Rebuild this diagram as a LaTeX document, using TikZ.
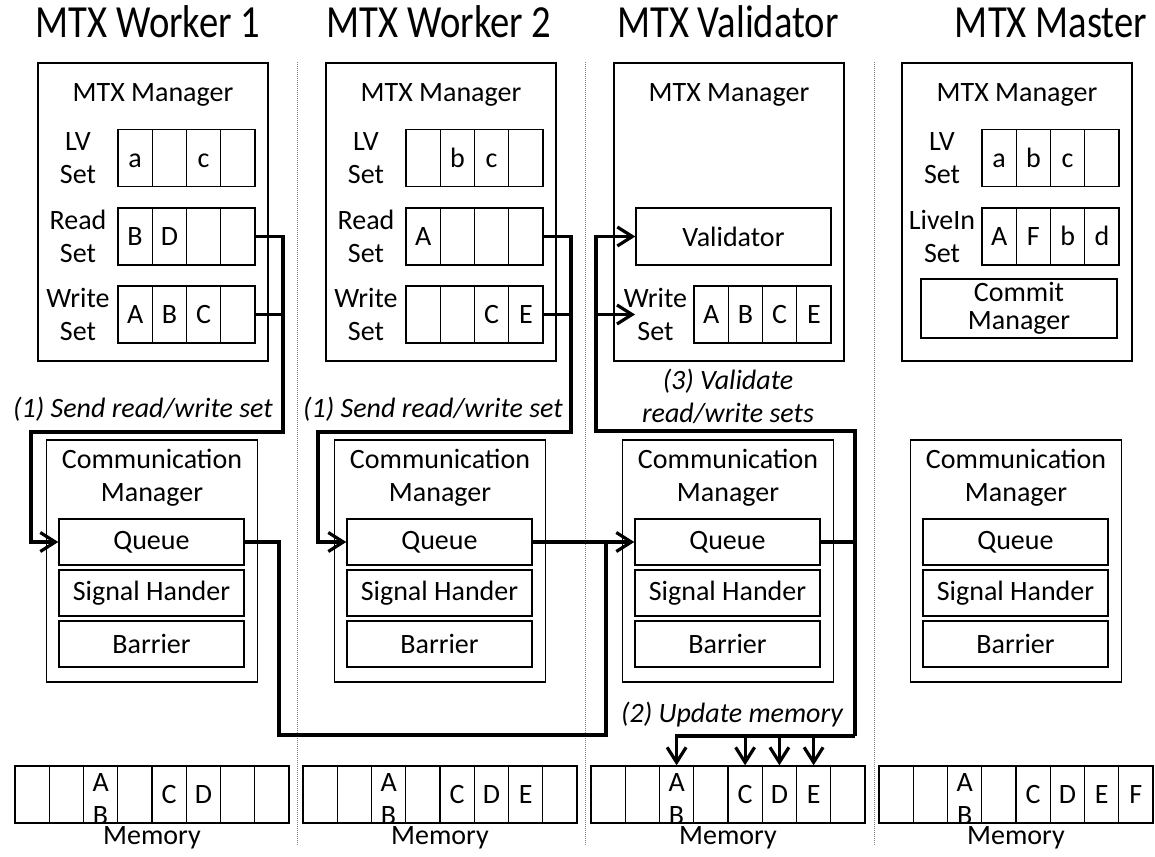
\documentclass[tikz,border=0pt]{standalone}
\usepackage{fontspec}
\setmainfont{Carlito}
\newfontfamily\ttlfont{Carlito}[FakeStretch=0.84]
\usetikzlibrary{arrows.meta}
\newcommand{\txtsize}{\fontsize{28}{33}\selectfont}
\newcommand{\ttlsize}{\ttlfont\fontsize{46}{50}\selectfont}

\begin{document}
\begin{tikzpicture}[x=1pt, y=-1pt, font=\txtsize,
  box/.style={draw, line width=1.4pt, inner sep=0pt, align=center},
  cell/.style={box, minimum width=34.25pt, minimum height=57pt, text height=18pt, text depth=0pt},
  sub/.style={box, minimum width=185pt, minimum height=46pt},
  lbl/.style={align=center, inner sep=0pt},
  pair/.style={lbl, yshift=-4.5pt},
  title/.style={font=\ttlsize, anchor=base, inner sep=0pt},
  step lbl/.style={font=\txtsize\itshape, align=center, inner sep=0pt},
  link/.style={line width=3.2pt},
  arr/.style={link, -{Straight Barb[length=15pt, width=19pt]}},
  sep/.style={gray, line width=1pt, dash pattern=on 1pt off 1pt}]
\useasboundingbox (0,0) rectangle (1155,856);

% Column separators
\draw[sep] (297,62) -- (297,845);
\draw[sep] (585,62) -- (585,845);
\draw[sep] (874,62) -- (874,845);

% Titles
\node[title] (t1) at (148,38) {MTX Worker 1};
\node[title] (t2) at (439,38) {MTX Worker 2};
\node[title] (t3) at (728,38) {MTX Validator};
\node[title] (t4) at (1051,38) {MTX Master};

% Worker 1
\node[box, minimum width=230pt, minimum height=298pt] (w1mtx) at (153,212) {};
\node (w1mtxt) at (153,95) {MTX Manager};
\node[lbl] (w1lvl) at (78,158) {LV\\Set};
\node[cell] (w1lv1) at (135.1,158) {a};
\node[cell] (w1lv2) at (169.4,158) {};
\node[cell] (w1lv3) at (203.6,158) {c};
\node[cell] (w1lv4) at (237.9,158) {};
\node[lbl] (w1rdl) at (78,236.5) {Read\\Set};
\node[cell] (w1rd1) at (135.1,236.5) {B};
\node[cell] (w1rd2) at (169.4,236.5) {D};
\node[cell] (w1rd3) at (203.6,236.5) {};
\node[cell] (w1rd4) at (237.9,236.5) {};
\node[lbl] (w1wrl) at (78,314.5) {Write\\Set};
\node[cell] (w1wr1) at (135.1,314.5) {A};
\node[cell] (w1wr2) at (169.4,314.5) {B};
\node[cell] (w1wr3) at (203.6,314.5) {C};
\node[cell] (w1wr4) at (237.9,314.5) {};
\node[box, minimum width=211pt, minimum height=242pt] (w1com) at (152,561) {};
\node[lbl] (w1comt) at (152,477.5) {Communication\\Manager};
\node[sub] (w1q) at (151.5,542) {Queue};
\node[sub] (w1sig) at (151.5,593) {Signal Hander};
\node[sub] (w1bar) at (151.5,644) {Barrier};

% Worker 2
\node[box, minimum width=230pt, minimum height=298pt] (w2mtx) at (441,212) {};
\node (w2mtxt) at (441,95) {MTX Manager};
\node[lbl] (w2lvl) at (366,158) {LV\\Set};
\node[cell] (w2lv1) at (423.1,158) {};
\node[cell] (w2lv2) at (457.4,158) {b};
\node[cell] (w2lv3) at (491.6,158) {c};
\node[cell] (w2lv4) at (525.9,158) {};
\node[lbl] (w2rdl) at (366,236.5) {Read\\Set};
\node[cell] (w2rd1) at (423.1,236.5) {A};
\node[cell] (w2rd2) at (457.4,236.5) {};
\node[cell] (w2rd3) at (491.6,236.5) {};
\node[cell] (w2rd4) at (525.9,236.5) {};
\node[lbl] (w2wrl) at (366,314.5) {Write\\Set};
\node[cell] (w2wr1) at (423.1,314.5) {};
\node[cell] (w2wr2) at (457.4,314.5) {};
\node[cell] (w2wr3) at (491.6,314.5) {C};
\node[cell] (w2wr4) at (525.9,314.5) {E};
\node[box, minimum width=211pt, minimum height=242pt] (w2com) at (440,561) {};
\node[lbl] (w2comt) at (440,477.5) {Communication\\Manager};
\node[sub] (w2q) at (439.5,542) {Queue};
\node[sub] (w2sig) at (439.5,593) {Signal Hander};
\node[sub] (w2bar) at (439.5,644) {Barrier};

% Validator
\node[box, minimum width=230pt, minimum height=298pt] (vmtx) at (729,212) {};
\node (vmtxt) at (729,95) {MTX Manager};
\node[box, minimum width=195pt, minimum height=57pt] (vval) at (733.5,236.5) {Validator};
\node[lbl] (vwrl) at (655.5,314.5) {Write\\Set};
\node[cell] (vwr1) at (711.1,314.5) {A};
\node[cell] (vwr2) at (745.4,314.5) {B};
\node[cell] (vwr3) at (779.6,314.5) {C};
\node[cell] (vwr4) at (813.9,314.5) {E};
\node[box, minimum width=211pt, minimum height=242pt] (vcom) at (728,561) {};
\node[lbl] (vcomt) at (728,477.5) {Communication\\Manager};
\node[sub] (vq) at (727.5,542) {Queue};
\node[sub] (vsig) at (727.5,593) {Signal Hander};
\node[sub] (vbar) at (727.5,644) {Barrier};

% Master
\node[box, minimum width=230pt, minimum height=298pt] (mmtx) at (1017,212) {};
\node (mmtxt) at (1017,95) {MTX Manager};
\node[lbl] (mlvl) at (942,158) {LV\\Set};
\node[cell] (mlv1) at (999.1,158) {a};
\node[cell] (mlv2) at (1033.4,158) {b};
\node[cell] (mlv3) at (1067.6,158) {c};
\node[cell] (mlv4) at (1101.9,158) {};
\node[lbl] (mlil) at (942,236.5) {LiveIn\\Set};
\node[cell] (mli1) at (999.1,236.5) {A};
\node[cell] (mli2) at (1033.4,236.5) {F};
\node[cell] (mli3) at (1067.6,236.5) {b};
\node[cell] (mli4) at (1101.9,236.5) {d};
\node[box, minimum width=196pt, minimum height=59pt, font=\fontsize{28}{28}\selectfont] (mcm) at (1019,308.5) {Commit\\Manager};
\node[box, minimum width=211pt, minimum height=242pt] (mcom) at (1016,561) {};
\node[lbl] (mcomt) at (1016,477.5) {Communication\\Manager};
\node[sub] (mq) at (1015.5,542) {Queue};
\node[sub] (msig) at (1015.5,593) {Signal Hander};
\node[sub] (mbar) at (1015.5,644) {Barrier};

% Memory rows
\node[cell] (w1m1) at (32.1,794.5) {};
\node[cell] (w1m2) at (66.4,794.5) {};
\node[cell] (w1m3) at (100.6,794.5) {};
\node[pair] (w1ab) at (w1m3.center) {A\\B};
\node[cell] (w1m4) at (134.9,794.5) {};
\node[cell] (w1m5) at (169.1,794.5) {C};
\node[cell] (w1m6) at (203.4,794.5) {D};
\node[cell] (w1m7) at (237.6,794.5) {};
\node[cell] (w1m8) at (271.9,794.5) {};
\node (w1mem) at (152,838) {Memory};
\node[cell] (w2m1) at (320.1,794.5) {};
\node[cell] (w2m2) at (354.4,794.5) {};
\node[cell] (w2m3) at (388.6,794.5) {};
\node[pair] (w2ab) at (w2m3.center) {A\\B};
\node[cell] (w2m4) at (422.9,794.5) {};
\node[cell] (w2m5) at (457.1,794.5) {C};
\node[cell] (w2m6) at (491.4,794.5) {D};
\node[cell] (w2m7) at (525.6,794.5) {E};
\node[cell] (w2m8) at (559.9,794.5) {};
\node (w2mem) at (440,838) {Memory};
\node[cell] (vm1) at (608.1,794.5) {};
\node[cell] (vm2) at (642.4,794.5) {};
\node[cell] (vm3) at (676.6,794.5) {};
\node[pair] (vab) at (vm3.center) {A\\B};
\node[cell] (vm4) at (710.9,794.5) {};
\node[cell] (vm5) at (745.1,794.5) {C};
\node[cell] (vm6) at (779.4,794.5) {D};
\node[cell] (vm7) at (813.6,794.5) {E};
\node[cell] (vm8) at (847.9,794.5) {};
\node (vmem) at (728,838) {Memory};
\node[cell] (mm1) at (896.1,794.5) {};
\node[cell] (mm2) at (930.4,794.5) {};
\node[cell] (mm3) at (964.6,794.5) {};
\node[pair] (mab) at (mm3.center) {A\\B};
\node[cell] (mm4) at (998.9,794.5) {};
\node[cell] (mm5) at (1033.1,794.5) {C};
\node[cell] (mm6) at (1067.4,794.5) {D};
\node[cell] (mm7) at (1101.6,794.5) {E};
\node[cell] (mm8) at (1135.9,794.5) {F};
\node (mmem) at (1016,838) {Memory};

% Step labels
\node[step lbl] (l1) at (143,409) {(1) Send read/write set};
\node[step lbl] (l2) at (433,409) {(1) Send read/write set};
\node[step lbl] (l3) at (728,396.5) {(3) Validate\\read/write sets};
\node[step lbl] (l4) at (732,715) {(2) Update memory};

% (1) read/write sets go to the queues
\coordinate (s1) at (283,432);
\draw[link] (w1wr4.east) -- (w1wr4.east -| s1);
\draw[arr] (w1rd4.east) -| (s1) -- (31,432) |- (w1q.west);
\coordinate (s2) at (571,432);
\draw[link] (w2wr4.east) -- (w2wr4.east -| s2);
\draw[arr] (w2rd4.east) -| (s2) -- (318,432) |- (w2q.west);

% both queues feed the validator queue
\coordinate (j1) at (606,542);
\draw[link] (w1q.east) -| (279,735) -| (j1);
\draw[arr] (w2q.east) -- (vq.west);

% (3) validation loop
\coordinate (v1) at (855,431);
\coordinate (v2) at (596,431);
\coordinate (vin) at (635,314.5);
\draw[arr] (vq.east) -| (v1) -- (v2) |- (vval.west);
\draw[arr] (v2 |- vin) -- (vin);

% (2) memory update
\coordinate (u1) at (855,736);
\draw[link] (vq.east -| u1) -- (u1);
\draw[arr] (u1) -| (vm3.north);
\draw[arr] (vm5.north |- u1) -- (vm5.north);
\draw[arr] (vm6.north |- u1) -- (vm6.north);
\draw[arr] (vm7.north |- u1) -- (vm7.north);
\end{tikzpicture}
\end{document}
